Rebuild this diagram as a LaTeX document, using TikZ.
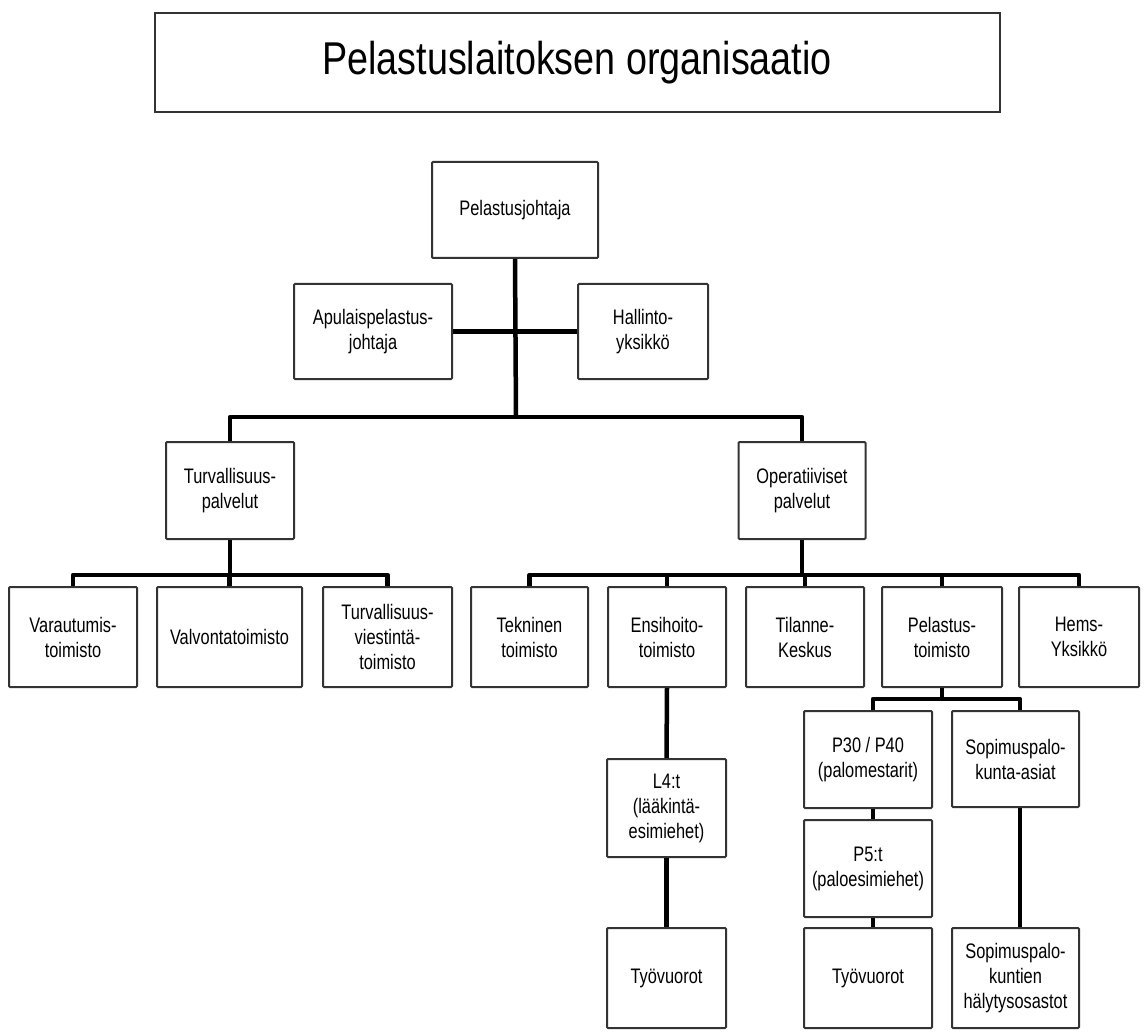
\documentclass[tikz,border=0pt]{standalone}
\usepackage{fontspec}
\setmainfont[FakeStretch=0.78]{Liberation Sans}
\newfontfamily\titlefont[FakeStretch=0.82]{Liberation Sans}
\begin{document}
\begin{tikzpicture}[x=1pt,y=-1pt,
  unit/.style={draw=black!80, line width=2pt, fill=white, rounded corners=1pt,
    align=center, inner sep=0pt, font=\fontsize{21}{25}\selectfont},
  link/.style={line width=4.5pt, line join=round},
]
\useasboundingbox (0,0) rectangle (1144,1035);

% heading
\node[draw=black!80, line width=2pt, minimum width=845pt, minimum height=99pt,
  inner sep=0pt, font=\titlefont\fontsize{46}{50}\selectfont]
  (title) at (577,62.5) {Pelastuslaitoksen organisaatio};

% management
\node[unit, minimum width=166pt, minimum height=96pt] (pj) at (515,210) {Pelastusjohtaja};
\node[unit, minimum width=158pt, minimum height=95pt] (apu) at (373,331.5) {Apulaispelastus-\\johtaja};
\node[unit, minimum width=130pt, minimum height=95pt] (hal) at (643,331.5) {Hallinto-\\yksikkö};

% service areas
\node[unit, minimum width=128pt, minimum height=97pt] (turv) at (230,490.5) {Turvallisuus-\\palvelut};
\node[unit, minimum width=127pt, minimum height=97pt] (oper) at (802,490.5) {Operatiiviset\\palvelut};

% offices
\node[unit, minimum width=128pt, minimum height=100pt] (var) at (73,637) {Varautumis-\\toimisto};
\node[unit, minimum width=145pt, minimum height=100pt] (valv) at (229.5,637) {Valvontatoimisto};
\node[unit, minimum width=129pt, minimum height=100pt] (tvt) at (387.5,637) {Turvallisuus-\\viestintä-\\toimisto};
\node[unit, minimum width=117pt, minimum height=100pt] (tek) at (529.5,637) {Tekninen\\toimisto};
\node[unit, minimum width=118pt, minimum height=100pt] (ens) at (667,637) {Ensihoito-\\toimisto};
\node[unit, minimum width=118pt, minimum height=100pt] (til) at (805,637) {Tilanne-\\Keskus};
\node[unit, minimum width=120pt, minimum height=100pt] (pto) at (942,637) {Pelastus-\\toimisto};
\node[unit, minimum width=120pt, minimum height=100pt] (hems) at (1079,637) {Hems-\\Yksikkö};

% lower levels
\node[unit, minimum width=119pt, minimum height=98pt] (l4) at (666.5,808) {L4:t\\(lääkintä-\\esimiehet)};
\node[unit, minimum width=119pt, minimum height=100pt] (tyo1) at (666.5,978) {Työvuorot};
\node[unit, minimum width=128pt, minimum height=97pt] (p30) at (868,759.5) {P30 / P40\\(palomestarit)};
\node[unit, minimum width=127pt, minimum height=96pt] (sop) at (1015.5,759) {Sopimuspalo-\\kunta-asiat};
\node[unit, minimum width=128pt, minimum height=97pt] (p5) at (868,868.5) {P5:t\\(paloesimiehet)};
\node[unit, minimum width=128pt, minimum height=100pt] (tyo2) at (868,978) {Työvuorot};
\node[unit, minimum width=127pt, minimum height=100pt] (soph) at (1015.5,978) {Sopimuspalo-\\kuntien\\hälytysosastot};

% junction points
\coordinate (top) at (516,417);
\coordinate (tb) at (230,575);
\coordinate (ob) at (802,575);
\coordinate (pb) at (942,699);

% connectors
\draw[link] (pj.south) -- (top);
\draw[link] (apu.east) -- (hal.west);
\draw[link] (turv.north) |- (top) -| (oper.north);

\draw[link] (turv.south) -- (tb);
\draw[link] (var.north) |- (tb) -| (tvt.north);
\draw[link] (valv.north) -- (valv.north |- tb);

\draw[link] (oper.south) -- (ob);
\draw[link] (tek.north) |- (ob) -| (hems.north);
\draw[link] (ens.north) -- (ens.north |- ob);
\draw[link] (til.north) -- (til.north |- ob);
\draw[link] (pto.north) -- (pto.north |- ob);

\draw[link] (ens.south) -- (l4.north);
\draw[link] (l4.south) -- (tyo1.north);

\draw[link] (pto.south) -- (pb);
\draw[link] ([xshift=5pt]p30.north) |- (pb) -| ([xshift=4.5pt]sop.north);
\draw[link] ([xshift=5pt]p30.south) -- ([xshift=5pt]p5.north);
\draw[link] ([xshift=5pt]p5.south) -- ([xshift=5pt]tyo2.north);
\draw[link] ([xshift=4.5pt]sop.south) -- ([xshift=4.5pt]soph.north);
\end{tikzpicture}
\end{document}
